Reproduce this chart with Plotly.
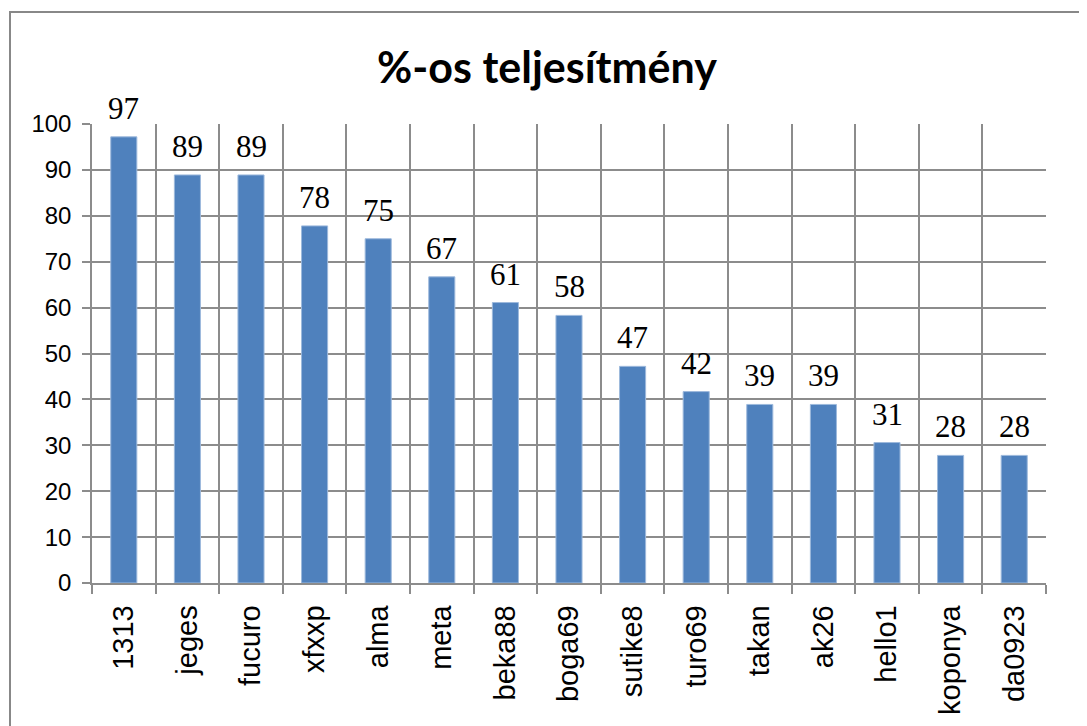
import plotly.graph_objects as go

categories = ["1313", "jeges", "fucuro", "xfxxp", "alma", "meta", "beka88", "boga69",
              "sutike8", "turo69", "takan", "ak26", "hello1", "koponya", "da0923"]
values = [97.2, 88.9, 88.9, 77.8, 75.0, 66.7, 61.1, 58.3, 47.2, 41.7, 38.9, 38.9, 30.6, 27.8, 27.8]
y_ticks = list(range(0, 101, 10))
title_text = "%-os teljesítmény"

W, H = 1087, 726
OFF = 8  # default page body margin
L, R, T, B = 92 - OFF, 41 + OFF, 124 - OFF, 143 + OFF
pw, ph = W - L - R, H - T - B

fig = go.Figure()
fig.add_trace(go.Bar(
    x=categories, y=values, width=0.41,
    marker=dict(color="#4F81BD", line=dict(color="#9DB9DC", width=1)),
    hoverinfo="x+y",
))

for i, v in enumerate(values):
    fig.add_annotation(x=i, y=v, text=f"{v:.0f}", showarrow=False,
                       yanchor="bottom", yshift=9,
                       font=dict(family="Liberation Serif", size=31, color="black"))

def px_x(p):
    return (p - OFF - L) / pw

def px_y(p):
    return (H - B - (p - OFF)) / ph

fig.add_shape(type="rect", xref="paper", yref="paper",
              x0=px_x(10), x1=px_x(1120), y0=px_y(12), y1=px_y(760),
              line=dict(color="#888888", width=2), fillcolor="rgba(0,0,0,0)", layer="below")

grid = "#8C8C8C"
fig.update_layout(
    width=W, height=H,
    margin=dict(l=L, r=R, t=T, b=B, pad=0, autoexpand=False),
    paper_bgcolor="white", plot_bgcolor="white",
    showlegend=False,
    title=dict(text=title_text, x=(547 - OFF) / W, xref="container", xanchor="center",
               y=1 - (68 - OFF) / H, yref="container", yanchor="middle", automargin=False,
               font=dict(family="Lato", size=43, color="black", weight="bold")),
    xaxis=dict(type="category", tickson="boundaries", showgrid=True, gridcolor=grid, gridwidth=1.5,
               showline=True, linecolor=grid, linewidth=1.5, automargin=False,
               ticks="outside", ticklen=9, tickcolor=grid, tickwidth=1.5, ticklabelstandoff=9,
               tickangle=-90, tickfont=dict(family="Liberation Sans", size=29, color="black"),
               range=[-0.5, len(categories) - 0.5]),
    yaxis=dict(range=[0, 100], tickvals=y_ticks, showgrid=True, gridcolor=grid, gridwidth=1.5,
               showline=True, linecolor=grid, linewidth=1.5, zeroline=False, automargin=False,
               ticks="outside", ticklen=8, tickcolor=grid, tickwidth=1.5, ticklabelstandoff=6,
               tickfont=dict(family="Liberation Sans", size=24, color="black")),
)

fig.write_html("out.html")
